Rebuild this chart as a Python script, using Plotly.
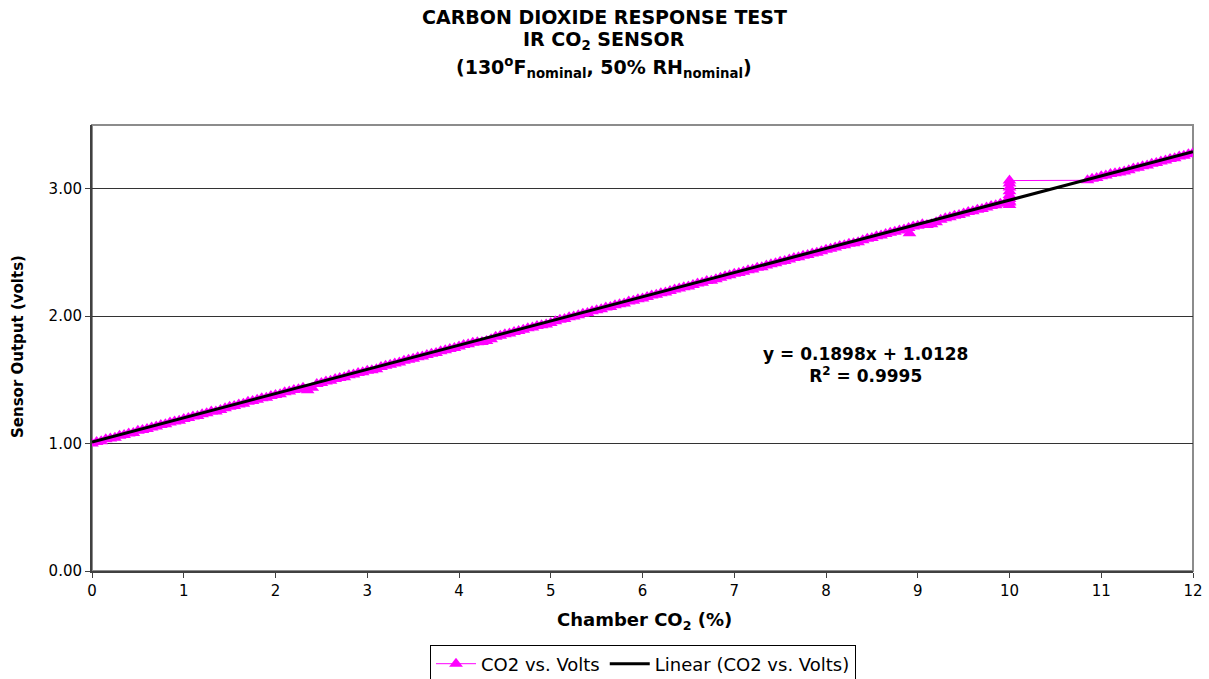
import plotly.graph_objects as go

# Chamber CO2 concentration (%) and measured sensor output (volts)
co2_pct = [
    0.00, 0.05, 0.10, 0.15, 0.20, 0.25, 0.30, 0.35, 0.40, 0.45,
    0.50, 0.55, 0.60, 0.65, 0.70, 0.75, 0.80, 0.85, 0.90, 0.95,
    1.00, 1.05, 1.10, 1.15, 1.20, 1.25, 1.30, 1.35, 1.40, 1.45,
    1.50, 1.55, 1.60, 1.65, 1.70, 1.75, 1.80, 1.85, 1.90, 1.95,
    2.00, 2.05, 2.10, 2.15, 2.20, 2.25, 2.30, 2.35, 2.40, 2.45,
    2.50, 2.55, 2.60, 2.65, 2.70, 2.75, 2.80, 2.85, 2.90, 2.95,
    3.00, 3.05, 3.10, 3.15, 3.20, 3.25, 3.30, 3.35, 3.40, 3.45,
    3.50, 3.55, 3.60, 3.65, 3.70, 3.75, 3.80, 3.85, 3.90, 3.95,
    4.00, 4.05, 4.10, 4.15, 4.20, 4.25, 4.30, 4.35, 4.40, 4.45,
    4.50, 4.55, 4.60, 4.65, 4.70, 4.75, 4.80, 4.85, 4.90, 4.95,
    5.00, 5.05, 5.10, 5.15, 5.20, 5.25, 5.30, 5.35, 5.40, 5.45,
    5.50, 5.55, 5.60, 5.65, 5.70, 5.75, 5.80, 5.85, 5.90, 5.95,
    6.00, 6.05, 6.10, 6.15, 6.20, 6.25, 6.30, 6.35, 6.40, 6.45,
    6.50, 6.55, 6.60, 6.65, 6.70, 6.75, 6.80, 6.85, 6.90, 6.95,
    7.00, 7.05, 7.10, 7.15, 7.20, 7.25, 7.30, 7.35, 7.40, 7.45,
    7.50, 7.55, 7.60, 7.65, 7.70, 7.75, 7.80, 7.85, 7.90, 7.95,
    8.00, 8.05, 8.10, 8.15, 8.20, 8.25, 8.30, 8.35, 8.40, 8.45,
    8.50, 8.55, 8.60, 8.65, 8.70, 8.75, 8.80, 8.85, 8.90, 8.91, 8.95,
    9.00, 9.05, 9.10, 9.15, 9.20, 9.25, 9.30, 9.35, 9.40, 9.45,
    9.50, 9.55, 9.60, 9.65, 9.70, 9.75, 9.80, 9.85, 9.90, 9.95,
    10.00, 10.00, 10.00, 10.00, 10.00, 10.00, 10.00, 10.00, 10.00,
    10.85, 10.90, 10.95, 11.00, 11.05, 11.10, 11.15, 11.20, 11.25, 11.30,
    11.35, 11.40, 11.45, 11.50, 11.55, 11.60, 11.65, 11.70, 11.75, 11.80,
    11.85, 11.90, 11.95, 12.00,
]
sensor_volts = [
    1.001, 1.012, 1.019, 1.033, 1.040, 1.046, 1.061, 1.067, 1.079, 1.083,
    1.100, 1.106, 1.114, 1.127, 1.134, 1.145, 1.151, 1.166, 1.173, 1.180,
    1.193, 1.200, 1.213, 1.216, 1.230, 1.237, 1.252, 1.251, 1.263, 1.278,
    1.289, 1.295, 1.307, 1.313, 1.328, 1.334, 1.343, 1.355, 1.360, 1.373,
    1.381, 1.388, 1.402, 1.409, 1.420, 1.427, 1.438, 1.419, 1.438, 1.468,
    1.475, 1.488, 1.493, 1.506, 1.514, 1.521, 1.536, 1.542, 1.553, 1.560,
    1.571, 1.576, 1.583, 1.601, 1.611, 1.618, 1.629, 1.636, 1.650, 1.657,
    1.665, 1.678, 1.683, 1.696, 1.704, 1.711, 1.725, 1.732, 1.743, 1.750,
    1.761, 1.773, 1.779, 1.791, 1.796, 1.798, 1.804, 1.819, 1.838, 1.846,
    1.858, 1.863, 1.876, 1.884, 1.893, 1.905, 1.911, 1.923, 1.928, 1.935,
    1.946, 1.959, 1.971, 1.977, 1.991, 1.998, 2.007, 2.018, 2.025, 2.038,
    2.046, 2.054, 2.068, 2.072, 2.085, 2.093, 2.100, 2.114, 2.121, 2.132,
    2.139, 2.150, 2.162, 2.168, 2.180, 2.186, 2.198, 2.209, 2.216, 2.227,
    2.233, 2.245, 2.257, 2.262, 2.275, 2.278, 2.289, 2.302, 2.314, 2.320,
    2.332, 2.338, 2.349, 2.361, 2.367, 2.379, 2.384, 2.397, 2.408, 2.415,
    2.426, 2.433, 2.444, 2.456, 2.462, 2.474, 2.480, 2.492, 2.497, 2.510,
    2.521, 2.528, 2.539, 2.551, 2.557, 2.569, 2.572, 2.580, 2.596, 2.608,
    2.614, 2.626, 2.632, 2.644, 2.655, 2.662, 2.673, 2.680, 2.691, 2.650, 2.703,
    2.709, 2.721, 2.715, 2.722, 2.737, 2.757, 2.769, 2.776, 2.787, 2.794,
    2.805, 2.817, 2.823, 2.835, 2.841, 2.852, 2.864, 2.870, 2.882, 2.888,
    2.900, 2.872, 2.892, 2.920, 2.950, 2.980, 3.010, 3.040, 3.064,
    3.066, 3.078, 3.085, 3.097, 3.104, 3.115, 3.121, 3.128, 3.136, 3.145,
    3.158, 3.164, 3.176, 3.183, 3.196, 3.202, 3.214, 3.221, 3.233, 3.240,
    3.252, 3.259, 3.271, 3.280,
]

# Least-squares fit reported on the chart
fit_slope = 0.1898
fit_intercept = 1.0128
fit_r2 = 0.9995
fit_x = [0.0, 12.0]

x_ticks = [0, 1, 2, 3, 4, 5, 6, 7, 8, 9, 10, 11, 12]
y_ticks = [0.0, 1.0, 2.0, 3.0]

FONT = "DejaVu Sans, Arial, sans-serif"

# Plot-area geometry in pixels
W, H = 1209, 679
PL, PR, PT, PB = 92, 1193, 125, 571


def px_x(px):
    return (px - PL) / (PR - PL)


def px_y(py):
    return (PB - py) / (PB - PT)


fig = go.Figure()

fig.add_trace(go.Scatter(
    x=co2_pct, y=sensor_volts,
    mode="lines+markers",
    name="CO2 vs. Volts",
    line=dict(color="#FF00FF", width=1),
    marker=dict(symbol="triangle-up", size=12, color="#FF00FF"),
))

fig.add_trace(go.Scatter(
    x=fit_x,
    y=[fit_slope * v + fit_intercept for v in fit_x],
    mode="lines",
    name="Linear (CO2 vs. Volts)",
    line=dict(color="#000000", width=3),
))

# Three-line heading
title_lines = [
    ("<b>CARBON DIOXIDE RESPONSE TEST</b>", 17),
    ("<b>IR CO<sub>2</sub> SENSOR</b>", 40),
    ("<b>(130<sup>o</sup>F<sub>nominal</sub>, 50% RH<sub>nominal</sub>)</b>", 68),
]
annotations = []
for text, py in title_lines:
    annotations.append(dict(
        text=text, xref="paper", yref="paper",
        x=px_x(604), y=px_y(py),
        xanchor="center", yanchor="middle", showarrow=False,
        font=dict(family=FONT, size=19, color="black"),
    ))

annotations.append(dict(
    text=f"<b>y = {fit_slope:.4f}x + {fit_intercept:.4f}<br>R<sup>2</sup> = {fit_r2:.4f}</b>",
    xref="paper", yref="paper",
    x=px_x(865), y=px_y(365),
    xanchor="center", yanchor="middle", showarrow=False, align="center",
    font=dict(family=FONT, size=17, color="black"),
))

annotations.append(dict(
    text="<b>Chamber CO<sub>2</sub> (%)</b>",
    xref="paper", yref="paper",
    x=px_x(644), y=px_y(621),
    xanchor="center", yanchor="middle", showarrow=False,
    font=dict(family=FONT, size=18, color="black"),
))

annotations.append(dict(
    text="<b>Sensor Output (volts)</b>",
    xref="paper", yref="paper",
    x=px_x(18), y=px_y(347), textangle=-90,
    xanchor="center", yanchor="middle", showarrow=False,
    font=dict(family=FONT, size=15, color="black"),
))

fig.update_layout(
    width=W, height=H,
    margin=dict(l=PL, r=W - PR, t=PT, b=H - PB, autoexpand=False),
    paper_bgcolor="white", plot_bgcolor="white",
    font=dict(family=FONT, size=15, color="black"),
    annotations=annotations,
    showlegend=True,
    legend=dict(
        orientation="h", x=px_x(643), y=px_y(664),
        xanchor="center", yanchor="middle",
        bordercolor="black", borderwidth=1, bgcolor="white",
        font=dict(family=FONT, size=18, color="black"),
        itemwidth=40, traceorder="normal", tracegroupgap=0,
    ),
    shapes=[dict(
        type="rect", xref="paper", yref="paper", x0=0, x1=1, y0=0, y1=1,
        line=dict(color="#8c8c8c", width=2), layer="below",
    )],
    xaxis=dict(
        range=[0, 12], tickvals=x_ticks, ticktext=[str(t) for t in x_ticks],
        showgrid=False, zeroline=False,
        showline=True, linecolor="#404040", linewidth=2,
        ticks="outside", ticklen=5, tickwidth=1, tickcolor="#404040",
        tickfont=dict(family=FONT, size=15, color="black"),
    ),
    yaxis=dict(
        range=[0, 3.5], tickvals=y_ticks, ticktext=[f"{t:.2f}" for t in y_ticks],
        showgrid=True, gridcolor="#333333", gridwidth=1, zeroline=False,
        showline=True, linecolor="#404040", linewidth=2,
        ticks="outside", ticklen=5, tickwidth=1, tickcolor="#404040",
        tickfont=dict(family=FONT, size=15, color="black"),
    ),
)

fig.write_html("out.html")
